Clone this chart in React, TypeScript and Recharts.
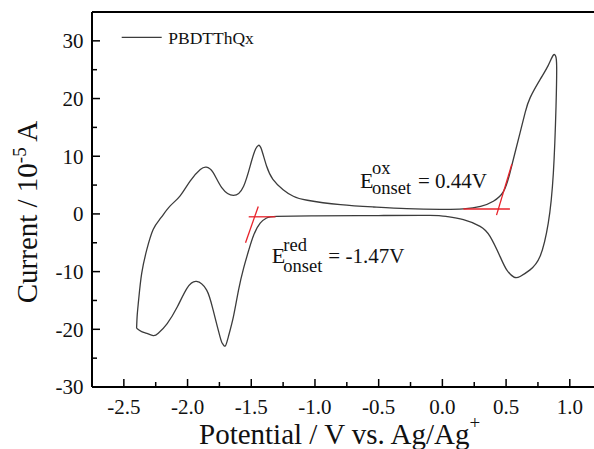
import React from 'react';
import { LineChart, Line, XAxis, YAxis, ReferenceLine } from 'recharts';

// Cyclic voltammogram of PBDTThQx (potential V vs Ag/Ag+, current in 1e-5 A), traced as a closed loop
const CV_POTENTIAL = [
  -2.400, -2.395, -2.384, -2.360, -2.320, -2.270, -2.210, -2.140, -2.060, -1.980,
  -1.900, -1.853, -1.800, -1.730, -1.640, -1.560, -1.500, -1.465, -1.443, -1.420,
  -1.380, -1.330, -1.250, -1.170, -1.060, -0.800, -0.540, -0.280, -0.020, 0.165,
  0.300, 0.400, 0.480, 0.530, 0.570, 0.610, 0.650, 0.690, 0.770, 0.830,
  0.870, 0.890, 0.897, 0.892, 0.871, 0.831, 0.766, 0.688, 0.610, 0.562,
  0.505, 0.453, 0.374, 0.296, 0.165, 0.035, -0.100, -0.500, -1.000, -1.300,
  -1.380, -1.430, -1.480, -1.520, -1.560, -1.600, -1.640, -1.680, -1.704, -1.725,
  -1.745, -1.800, -1.850, -1.930, -2.005, -2.080, -2.160, -2.230, -2.270, -2.320,
  -2.360, -2.400,
];
const CV_CURRENT = [
  -19.8, -17.5, -14.9, -10.3, -6.2, -2.7, -0.7, 1.3, 3.1, 5.7,
  7.7, 8.1, 7.2, 4.5, 3.2, 4.8, 9.0, 11.3, 11.9, 11.2,
  8.3, 6.0, 4.2, 3.06, 2.37, 1.6, 1.2, 0.92, 0.78, 0.86,
  1.3, 2.2, 3.9, 7.1, 10.6, 14.1, 17.6, 20.2, 23.4, 25.7,
  27.5, 27.3, 25.5, 18.7, 7.1, -1.6, -7.4, -9.7, -10.85, -10.96,
  -9.7, -7.4, -3.9, -2.15, -1.0, -0.45, -0.25, -0.28, -0.35, -0.42,
  -0.7, -1.6, -3.6, -6.3, -9.4, -13.2, -17.8, -21.3, -22.9, -22.5,
  -21.3, -16.6, -13.2, -11.7, -12.9, -16.1, -19.0, -20.7, -21.1, -20.7,
  -20.4, -19.8,
];

// Onset tangent lines (red)
const RED_BASE_X = [-1.52, -1.31];
const RED_BASE_Y = [-0.5, -0.5];
const RED_SLOPE_X = [-1.445, -1.545];
const RED_SLOPE_Y = [1.3, -5.0];
const OX_BASE_X = [0.165, 0.53];
const OX_BASE_Y = [0.85, 0.85];
const OX_SLOPE_X = [0.425, 0.545];
const OX_SLOPE_Y = [-0.2, 8.6];

const X_MAJOR = [-2.5, -2.0, -1.5, -1.0, -0.5, 0.0, 0.5, 1.0];
const X_MINOR = [-2.25, -1.75, -1.25, -0.75, -0.25, 0.25, 0.75];
const X_TICK_LABELS = ['-2.5', '-2.0', '-1.5', '-1.0', '-0.5', '0.0', '0.5', '1.0'];
const Y_MAJOR = [-30, -20, -10, 0, 10, 20, 30];
const Y_MINOR = [-25, -15, -5, 5, 15, 25];
const Y_TICK_LABELS = ['-30', '-20', '-10', '0', '10', '20', '30'];

const SERIES_NAME = 'PBDTThQx';

const W = 594;
const H = 449;
const PLOT_LEFT = 92;
const PLOT_BOTTOM = 387;
const FONT = '"Liberation Serif", "Times New Roman", serif';

const pairs = (xs: number[], ys: number[]) => xs.map((x, i) => ({ x, y: ys[i] }));

const cvData = pairs(CV_POTENTIAL, CV_CURRENT);
const redBase = pairs(RED_BASE_X, RED_BASE_Y);
const redSlope = pairs(RED_SLOPE_X, RED_SLOPE_Y);
const oxBase = pairs(OX_BASE_X, OX_BASE_Y);
const oxSlope = pairs(OX_SLOPE_X, OX_SLOPE_Y);

const XTick = (props: any) => {
  const { x, payload } = props;
  const idx = X_MAJOR.indexOf(payload.value);
  const major = idx >= 0;
  return (
    <g>
      <line x1={x} x2={x} y1={PLOT_BOTTOM} y2={PLOT_BOTTOM - (major ? 8 : 5)} stroke="#000" strokeWidth={1.5} />
      {major && (
        <text x={x} y={PLOT_BOTTOM + 27} textAnchor="middle" fontFamily={FONT} fontSize={21} fill="#111">
          {X_TICK_LABELS[idx]}
        </text>
      )}
    </g>
  );
};

const YTick = (props: any) => {
  const { y, payload } = props;
  const idx = Y_MAJOR.indexOf(payload.value);
  const major = idx >= 0;
  return (
    <g>
      <line x1={PLOT_LEFT} x2={PLOT_LEFT + (major ? 8 : 5)} y1={y} y2={y} stroke="#000" strokeWidth={1.5} />
      {major && (
        <text x={PLOT_LEFT - 8.5} y={y + 7.3} textAnchor="end" fontFamily={FONT} fontSize={21} fill="#111">
          {Y_TICK_LABELS[idx]}
        </text>
      )}
    </g>
  );
};

export default function App() {
  const xTicks = [...X_MAJOR, ...X_MINOR].sort((a, b) => a - b);
  const yTicks = [...Y_MAJOR, ...Y_MINOR].sort((a, b) => a - b);
  return (
    <div style={{ position: 'absolute', left: 0, top: 0, width: W, height: H, background: '#fff' }}>
      <LineChart width={W} height={H} margin={{ top: 12, right: 0, bottom: 22, left: 32 }}>
        <XAxis
          dataKey="x"
          type="number"
          domain={[-2.75, 1.19]}
          allowDataOverflow
          ticks={xTicks}
          interval={0}
          tick={<XTick />}
          tickLine={false}
          axisLine={{ stroke: '#000', strokeWidth: 2 }}
          height={40}
        />
        <YAxis
          dataKey="y"
          type="number"
          domain={[-30, 35]}
          allowDataOverflow
          ticks={yTicks}
          interval={0}
          tick={<YTick />}
          tickLine={false}
          axisLine={{ stroke: '#000', strokeWidth: 2 }}
          width={60}
        />
        <ReferenceLine y={35} stroke="#000" strokeWidth={2} ifOverflow="visible" />
        <Line data={cvData} dataKey="y" type="natural" stroke="#3c3c3c" strokeWidth={1.3} dot={false} isAnimationActive={false} />
        <Line data={redBase} dataKey="y" type="linear" stroke="#e8222a" strokeWidth={1.3} dot={false} isAnimationActive={false} />
        <Line data={redSlope} dataKey="y" type="linear" stroke="#e8222a" strokeWidth={1.3} dot={false} isAnimationActive={false} />
        <Line data={oxBase} dataKey="y" type="linear" stroke="#e8222a" strokeWidth={1.3} dot={false} isAnimationActive={false} />
        <Line data={oxSlope} dataKey="y" type="linear" stroke="#e8222a" strokeWidth={1.3} dot={false} isAnimationActive={false} />
      </LineChart>
      <svg width={W} height={H} style={{ position: 'absolute', left: 0, top: 0, pointerEvents: 'none' }} fontFamily={FONT} fill="#111">
        {/* legend */}
        <line x1={121.7} x2={161.7} y1={37.3} y2={37.3} stroke="#3c3c3c" strokeWidth={1.3} />
        <text x={168.3} y={44.3} fontSize={17.5}>{SERIES_NAME}</text>
        {/* oxidation onset */}
        <text fontSize={21}>
          <tspan x={360} y={188.3} fontSize={22}>E</tspan>
          <tspan x={372} y={173.5} fontSize={18.5}>ox</tspan>
          <tspan x={372} y={194} fontSize={18.5}>onset</tspan>
          <tspan x={418} y={188}>= 0.44V</tspan>
        </text>
        {/* reduction onset */}
        <text fontSize={21}>
          <tspan x={271.7} y={263} fontSize={22}>E</tspan>
          <tspan x={283.3} y={250.5} fontSize={18.5}>red</tspan>
          <tspan x={283.3} y={271.5} fontSize={18.5}>onset</tspan>
          <tspan x={328.3} y={263}>= -1.47V</tspan>
        </text>
        {/* axis titles */}
        <text x={199} y={444} fontSize={29}>
          Potential / V vs. Ag/Ag<tspan dy={-15} fontSize={19}>+</tspan>
        </text>
        <text transform="translate(37,212) rotate(-90)" textAnchor="middle" fontSize={29}>
          Current / 10<tspan dy={-11} fontSize={19}>-5</tspan><tspan dy={11}> A</tspan>
        </text>
      </svg>
    </div>
  );
}
